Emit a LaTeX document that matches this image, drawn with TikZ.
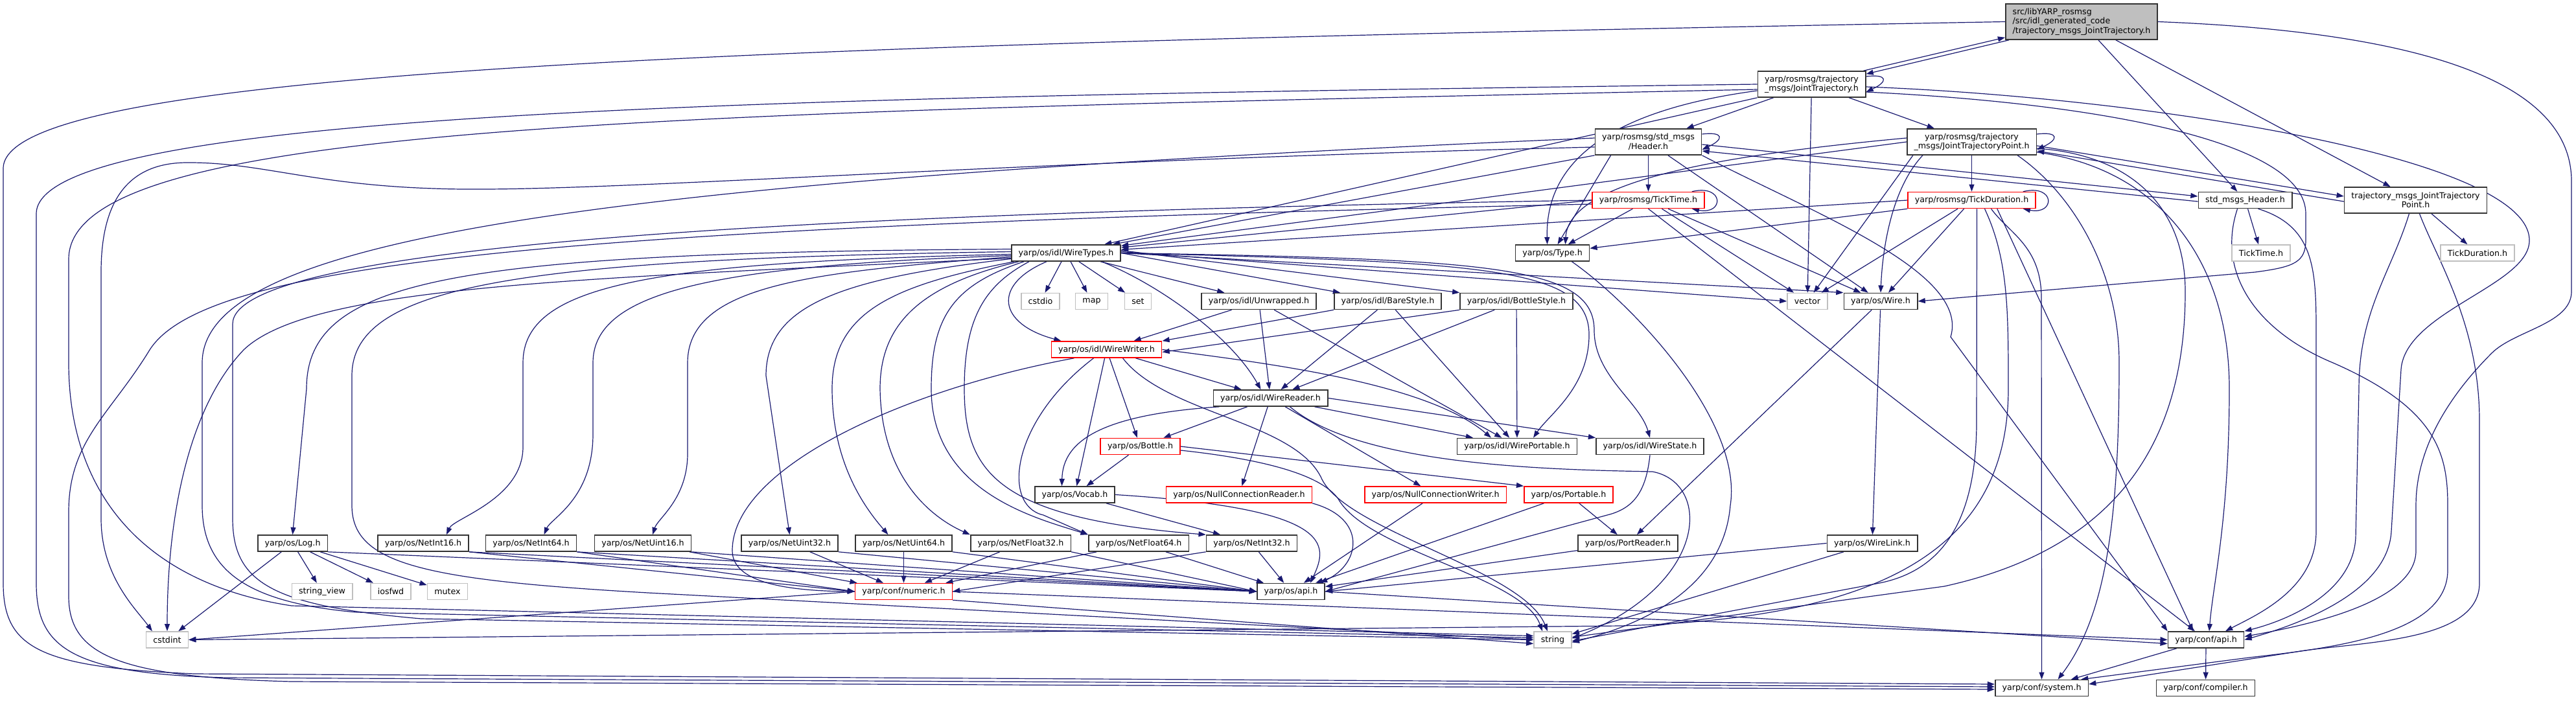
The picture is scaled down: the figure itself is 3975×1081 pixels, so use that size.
\documentclass[tikz,border=0pt]{standalone}
\usepackage{fontspec}
\setmainfont{DejaVu Sans}
\usepackage{xcolor}
\usepackage{tikz}
\usetikzlibrary{arrows.meta,backgrounds}
\definecolor{edgeblue}{RGB}{25,25,112}
\definecolor{boxgray}{RGB}{191,191,191}

\begin{document}
\begin{tikzpicture}[
    x=0.025cm, y=-0.025cm,
    >={Triangle[length=0.28cm,width=0.2cm]},
    box/.style={draw=black!80, line width=0.04cm, fill=white, minimum height=0.625cm, inner xsep=0.27cm, inner ysep=0pt, align=center, font=\fontsize{9}{10.3}\selectfont},
    box2/.style={box, minimum height=1cm},
    redbox/.style={box, draw=red},
    sysbox/.style={box, draw=boxgray},
    rootbox/.style={box, fill=boxgray, minimum height=1.375cm, align=left},
    arrow/.style={->, draw=edgeblue, line width=0.03cm},
]
\useasboundingbox (0,0) rectangle (3975,1081);

% rosmsg headers
\node[rootbox] (root) at (3212,33.5) {src/libYARP\_rosmsg\\/src/idl\_generated\_code\\/trajectory\_msgs\_JointTrajectory.h};
\node[box2] (jt) at (2795.5,130) {yarp/rosmsg/trajectory\\\_msgs/JointTrajectory.h};
\node[box2] (hdr) at (2543.5,219) {yarp/rosmsg/std\_msgs\\/Header.h};
\node[box2] (jtp) at (3042.5,219) {yarp/rosmsg/trajectory\\\_msgs/JointTrajectoryPoint.h};
\node[redbox] (ticktime) at (2543.5,309) {yarp/rosmsg/TickTime.h};
\node[redbox] (tickdur) at (3042.5,309) {yarp/rosmsg/TickDuration.h};
\node[box] (stdhdr) at (3464.5,309) {std\_msgs\_Header.h};
\node[box2] (trajpt) at (3727.5,309) {trajectory\_msgs\_JointTrajectory\\Point.h};
\node[sysbox] (ticktimeh) at (3489,390.5) {TickTime.h};
\node[sysbox] (tickdurh) at (3823,390.5) {TickDuration.h};

% idl and os headers
\node[box] (wiretypes) at (1645,390.5) {yarp/os/idl/WireTypes.h};
\node[box] (type) at (2395.5,390.5) {yarp/os/Type.h};
\node[sysbox] (cstdio) at (1605.5,465) {cstdio};
\node[sysbox] (map) at (1684.5,465) {map};
\node[sysbox] (set) at (1756,465) {set};
\node[box] (unwrapped) at (1942.5,465) {yarp/os/idl/Unwrapped.h};
\node[box] (barestyle) at (2141.5,465) {yarp/os/idl/BareStyle.h};
\node[box] (bottlestyle) at (2340,465) {yarp/os/idl/BottleStyle.h};
\node[sysbox] (vector) at (2789,465) {vector};
\node[box] (wire) at (2902,465) {yarp/os/Wire.h};
\node[redbox] (wirewriter) at (1707.5,539.5) {yarp/os/idl/WireWriter.h};
\node[box] (wirereader) at (1960.5,614.5) {yarp/os/idl/WireReader.h};
\node[redbox] (bottle) at (1759.5,689) {yarp/os/Bottle.h};
\node[box] (wireportable) at (2341,689) {yarp/os/idl/WirePortable.h};
\node[box] (wirestate) at (2546,689) {yarp/os/idl/WireState.h};
\node[box] (vocab) at (1658.5,763.5) {yarp/os/Vocab.h};
\node[redbox] (nullreader) at (1912,763.5) {yarp/os/NullConnectionReader.h};
\node[redbox] (nullwriter) at (2215,763.5) {yarp/os/NullConnectionWriter.h};
\node[redbox] (portable) at (2420.5,763.5) {yarp/os/Portable.h};
\node[box] (log) at (451.5,838.5) {yarp/os/Log.h};
\node[box] (netint16) at (653,838.5) {yarp/os/NetInt16.h};
\node[box] (netint64) at (819.5,838.5) {yarp/os/NetInt64.h};
\node[box] (netuint16) at (992,838.5) {yarp/os/NetUint16.h};
\node[box] (netuint32) at (1218.5,838.5) {yarp/os/NetUint32.h};
\node[box] (netuint64) at (1394.5,838.5) {yarp/os/NetUint64.h};
\node[box] (netfloat32) at (1575,838.5) {yarp/os/NetFloat32.h};
\node[box] (netfloat64) at (1757,838.5) {yarp/os/NetFloat64.h};
\node[box] (netint32) at (1931.5,838.5) {yarp/os/NetInt32.h};
\node[box] (portreader) at (2512,838.5) {yarp/os/PortReader.h};
\node[box] (wirelink) at (2889,838.5) {yarp/os/WireLink.h};
\node[sysbox] (stringview) at (497,913) {string\_view};
\node[sysbox] (iosfwd) at (603,913) {iosfwd};
\node[sysbox] (mutex) at (690.5,913) {mutex};
\node[redbox] (numeric) at (1394.5,913) {yarp/conf/numeric.h};
\node[box] (osapi) at (1992,913) {yarp/os/api.h};
\node[sysbox] (cstdint) at (258,987.5) {cstdint};
\node[sysbox] (string) at (2396,987.5) {string};
\node[box] (confapi) at (3404,987.5) {yarp/conf/api.h};
\node[box] (system) at (3150.5,1062) {yarp/conf/system.h};
\node[box] (compiler) at (3403.5,1062) {yarp/conf/compiler.h};

\begin{scope}[on background layer]
% root file
\draw[arrow] ([shift={(6,0)}]root.south west) -- ([shift={(0,5)}]jt.north east);
\draw[arrow] ([shift={(-4,0)}]jt.north east) -- ([shift={(0,-4)}]root.south west);
\draw[arrow] (root) -- (stdhdr);
\draw[arrow] (root) -- (trajpt);
\draw[arrow] (root.west) .. controls (1100,70) and (5,110) .. (5,260) -- (5,900) .. controls (5,1000) and (60,1030) .. (300,1040) -- ([shift={(0,-6)}]system.west);
\draw[arrow] (root.east) .. controls (3750,50) and (3968,130) .. (3968,280) -- (3968,450) .. controls (3968,500) and (3880,510) .. (3845,545) .. controls (3770,620) and (3728,700) .. (3728,780) -- (3728,850) .. controls (3728,930) and (3560,965) .. ([shift={(0,-5)}]confapi.east);

% JointTrajectory.h
\draw[arrow] ([shift={(0,-12)}]jt.east) .. controls +(34,-4) and +(34,-16) .. ([shift={(0,12)}]jt.east);
\draw[arrow] (jt) -- (hdr);
\draw[arrow] (jt) -- (jtp);
\draw[arrow] (jt) -- (vector);
\draw[arrow] (jt.south west) -- (wiretypes);
\draw[arrow] ([shift={(0,10)}]jt.west) .. controls (2450,175) and (2385,270) .. ([shift={(-8,0)}]type.north);
\draw[arrow] ([shift={(0,4)}]jt.east) .. controls (3300,150) and (3900,240) .. (3903,370) .. controls (3905,440) and (3712,480) .. (3705,570) -- (3690,820) .. controls (3685,910) and (3560,960) .. (confapi.east);
% loop round the right, under TickTime.h
\draw[arrow] ([shift={(0,12)}]jt.east) .. controls (3250,160) and (3558,220) .. (3558,330) -- (3558,370) .. controls (3558,405) and (3540,412) .. (3480,420) -- (wire.east);
\draw[arrow] (jt.west) .. controls (1200,150) and (56,170) .. (56,330) -- (56,900) .. controls (56,1000) and (110,1040) .. (350,1046) -- ([shift={(0,-2)}]system.west);
\draw[arrow] ([shift={(0,8)}]jt.west) .. controls (1000,175) and (106,190) .. (106,400) -- (106,560) .. controls (106,760) and (220,900) .. (450,935) -- ([shift={(0,-6)}]string.west);

% std_msgs/Header.h
\draw[arrow] ([shift={(0,-12)}]hdr.east) .. controls +(34,-4) and +(34,-16) .. ([shift={(0,12)}]hdr.east);
\draw[arrow] (hdr) -- (ticktime);
\draw[arrow] ([shift={(0,4)}]hdr.east) -- ([shift={(0,-6)}]stdhdr.west);
\draw[arrow] ([shift={(0,2)}]stdhdr.west) -- ([shift={(0,14)}]hdr.east);
\draw[arrow] (hdr.south west) -- (wiretypes);
\draw[arrow] ([shift={(25,0)}]hdr.south west) -- ([shift={(8,0)}]type.north);
\draw[arrow] (hdr) -- (wire);
\draw[arrow] (hdr.south east) .. controls (2800,330) and (3040,420) .. (3010,520) -- (confapi.north west);
\draw[arrow] ([shift={(0,-6)}]hdr.west) .. controls (900,280) and (312,370) .. (312,560) -- (312,780) .. controls (312,880) and (380,930) .. (550,945) -- ([shift={(0,-3)}]string.west);
\draw[arrow] ([shift={(0,8)}]hdr.west) .. controls (1500,250) and (900,300) .. (670,291) .. controls (480,285) and (400,250) .. (287,251) .. controls (190,252) and (156,320) .. (156,420) -- (156,800) .. controls (156,890) and (210,940) .. ([shift={(10,0)}]cstdint.north west);

% TickTime.h
\draw[arrow] ([shift={(-20,0)}]ticktime.north east) .. controls +(50,-12) and +(50,10) .. ([shift={(-20,0)}]ticktime.south east);
\draw[arrow] (ticktime) -- (type);
\draw[arrow] (ticktime) -- (vector);
\draw[arrow] (ticktime) -- (wire);
\draw[arrow] (ticktime.west) -- (wiretypes);
\draw[arrow] (ticktime.south) -- (confapi);
\draw[arrow] (ticktime.west) .. controls (1200,330) and (359,380) .. (359,500) -- (359,800) .. controls (359,900) and (420,935) .. (650,955) -- (string.west);
\draw[arrow] ([shift={(0,6)}]ticktime.west) .. controls (900,350) and (320,400) .. (231,540) .. controls (170,640) and (106,680) .. (106,790) -- (106,920) .. controls (106,1010) and (180,1045) .. (450,1052) -- ([shift={(0,2)}]system.west);

% JointTrajectoryPoint.h
\draw[arrow] ([shift={(0,-12)}]jtp.east) .. controls +(34,-4) and +(34,-16) .. ([shift={(0,12)}]jtp.east);
\draw[arrow] (jtp) -- (tickdur);
\draw[arrow] ([shift={(0,6)}]jtp.east) -- ([shift={(0,-6)}]trajpt.west);
\draw[arrow] ([shift={(0,2)}]trajpt.west) -- ([shift={(0,14)}]jtp.east);
\draw[arrow] ([shift={(0,-6)}]jtp.west) .. controls (2650,240) and (2420,280) .. ([shift={(20,0)}]type.north);
\draw[arrow] (jtp.west) -- (wiretypes);
\draw[arrow] ([shift={(10,0)}]jtp.south west) -- (vector);
\draw[arrow] ([shift={(25,0)}]jtp.south west) .. controls (2920,290) and (2905,380) .. (wire.north);
\draw[arrow] ([shift={(0,10)}]jtp.east) .. controls (3300,240) and (3372,330) .. (3372,450) .. controls (3372,700) and (3250,850) .. (3000,905) -- ([shift={(0,-4)}]string.east);
\draw[arrow] ([shift={(0,16)}]jtp.east) .. controls (3330,260) and (3440,400) .. (3440,600) .. controls (3440,800) and (3415,900) .. ([shift={(5,0)}]confapi.north);
\draw[arrow] ([shift={(-30,0)}]jtp.south east) .. controls (3200,300) and (3270,420) .. (3270,560) .. controls (3270,800) and (3250,950) .. ([shift={(25,0)}]system.north);

% TickDuration.h
\draw[arrow] ([shift={(-20,0)}]tickdur.north east) .. controls +(50,-12) and +(50,10) .. ([shift={(-20,0)}]tickdur.south east);
\draw[arrow] (tickdur.south west) -- (type);
\draw[arrow] (tickdur.west) -- (wiretypes);
\draw[arrow] (tickdur) -- (vector);
\draw[arrow] (tickdur) -- (wire);
\draw[arrow] ([shift={(8,0)}]tickdur.south) -- (3050,650) .. controls (3050,800) and (3000,880) .. (2900,900) -- ([shift={(0,2)}]string.east);
\draw[arrow] ([shift={(20,0)}]tickdur.south) .. controls (3099,400) and (3099,480) .. (3099,600) .. controls (3099,850) and (2900,955) .. (2500,966) -- (cstdint.east);
\draw[arrow] ([shift={(30,0)}]tickdur.south) .. controls (3100,360) and (3150,380) .. (3150,460) -- (system.north);
\draw[arrow] ([shift={(-60,0)}]tickdur.south east) -- ([shift={(-20,0)}]confapi.north);

% deprecated wrappers
\draw[arrow] (stdhdr) -- (ticktimeh);
\draw[arrow] ([shift={(-12,0)}]stdhdr.south) .. controls (3420,420) and (3480,510) .. (3600,560) .. controls (3760,630) and (3777,700) .. (3777,780) -- (3777,880) .. controls (3777,980) and (3600,1000) .. (3470,1015) -- ([shift={(-12,0)}]system.north east);
\draw[arrow] ([shift={(20,0)}]stdhdr.south) .. controls (3574,350) and (3574,420) .. (3574,520) -- (3574,820) .. controls (3574,910) and (3480,950) .. ([shift={(30,0)}]confapi.north);
\draw[arrow] (trajpt) -- (tickdurh);
\draw[arrow] ([shift={(-10,0)}]trajpt.south) .. controls (3690,420) and (3640,480) .. (3640,600) -- (3635,830) .. controls (3630,920) and (3520,960) .. (confapi.north east);
\draw[arrow] ([shift={(6,0)}]trajpt.south) .. controls (3760,400) and (3826,500) .. (3826,650) -- (3826,900) .. controls (3826,990) and (3650,990) .. (3550,1005) -- ([shift={(0,-6)}]system.east);

% WireTypes.h
\draw[arrow] (wiretypes) -- (cstdio);
\draw[arrow] (wiretypes) -- (map);
\draw[arrow] (wiretypes) -- (set);
\draw[arrow] (wiretypes) -- (unwrapped);
\draw[arrow] (wiretypes.east) -- (barestyle);
\draw[arrow] ([shift={(0,-4)}]wiretypes.east) -- (bottlestyle.north west);
\draw[arrow] ([shift={(0,-2)}]wiretypes.east) -- (vector.west);
\draw[arrow] (wiretypes.east) -- (wire.north west);
\draw[arrow] (wiretypes.east) .. controls (2300,400) and (2460,410) .. (2460,510) .. controls (2460,580) and (2530,620) .. (wirestate.north);
\draw[arrow] (wiretypes.east) .. controls (2300,405) and (2455,412) .. (2452,520) .. controls (2450,600) and (2390,640) .. ([shift={(25,0)}]wireportable.north);
\draw[arrow] ([shift={(-30,0)}]wiretypes.south east) .. controls (1790,440) and (1900,520) .. ([shift={(-15,0)}]wirereader.north);
\draw[arrow] ([shift={(-30,0)}]wiretypes.south) .. controls (1530,440) and (1540,500) .. ([shift={(-70,0)}]wirewriter.north);
\draw[arrow] ([shift={(0,-6)}]wiretypes.west) .. controls (700,390) and (473,430) .. (473,600) -- (log.north);
\draw[arrow] ([shift={(0,-2)}]wiretypes.west) .. controls (800,400) and (543,440) .. (543,580) -- (543,780) .. controls (543,870) and (650,895) .. (1000,915) -- (string.west);
\draw[arrow] ([shift={(0,8)}]wiretypes.west) .. controls (900,430) and (480,440) .. (376,540) .. controls (290,630) and (258,800) .. (cstdint.north);
\draw[arrow] ([shift={(0,2)}]wiretypes.west) .. controls (1000,405) and (807,440) .. (807,560) -- (807,690) .. controls (807,770) and (700,800) .. ([shift={(36,0)}]netint16.north);
\draw[arrow] ([shift={(0,4)}]wiretypes.west) .. controls (1100,410) and (915,450) .. (915,560) -- (915,670) .. controls (915,770) and (850,800) .. ([shift={(20,0)}]netint64.north);
\draw[arrow] ([shift={(0,6)}]wiretypes.west) .. controls (1250,420) and (1061,440) .. (1061,560) -- (1061,700) .. controls (1061,770) and (1015,800) .. ([shift={(15,0)}]netuint16.north);
\draw[arrow] ([shift={(0,9)}]wiretypes.west) .. controls (1300,430) and (1182,470) .. (1182,580) -- (netuint32.north);
\draw[arrow] ([shift={(5,0)}]wiretypes.south west) .. controls (1380,440) and (1284,480) .. (1284,600) .. controls (1284,720) and (1340,790) .. ([shift={(-24,0)}]netuint64.north);
\draw[arrow] ([shift={(12,0)}]wiretypes.south west) .. controls (1420,440) and (1358,500) .. (1358,600) .. controls (1360,740) and (1440,800) .. (netfloat32.north west);
\draw[arrow] ([shift={(20,0)}]wiretypes.south west) .. controls (1470,440) and (1437,490) .. (1437,600) .. controls (1437,760) and (1600,800) .. (netfloat64.north west);
\draw[arrow] ([shift={(28,0)}]wiretypes.south west) .. controls (1520,440) and (1488,490) .. (1488,600) .. controls (1488,730) and (1540,800) .. (netint32.north west);

% idl styles
\draw[arrow] (unwrapped) -- (wirewriter);
\draw[arrow] (unwrapped) -- (wirereader);
\draw[arrow] (unwrapped) -- (wireportable);
\draw[arrow] (barestyle.south west) -- (wirewriter.north east);
\draw[arrow] (barestyle) -- (wirereader);
\draw[arrow] (barestyle) -- (wireportable);
\draw[arrow] (bottlestyle.south west) -- ([shift={(0,4)}]wirewriter.east);
\draw[arrow] (bottlestyle) -- (wirereader);
\draw[arrow] (bottlestyle) -- (wireportable);

% WireWriter.h and WireReader.h
\draw[arrow] (wirewriter) -- (wirereader);
\draw[arrow] (wirewriter) -- (bottle);
\draw[arrow] (wirewriter) -- (vocab);
\draw[arrow] (wirewriter.east) .. controls (1950,560) and (2200,590) .. ([shift={(-40,0)}]wireportable.north);
\draw[arrow] ([shift={(-50,0)}]wirewriter.south) .. controls (1400,600) and (1130,720) .. (1130,850) .. controls (1130,895) and (1200,912) .. (numeric.west);
\draw[arrow] ([shift={(-20,0)}]wirewriter.south) .. controls (1560,650) and (1545,780) .. (1610,795) -- (netfloat64.north west);
\draw[arrow] ([shift={(25,0)}]wirewriter.south) .. controls (1800,640) and (2000,650) .. (2040,740) .. controls (2080,820) and (2350,880) .. ([shift={(-8,0)}]string.north);
\draw[arrow] (wirereader) -- (wireportable);
\draw[arrow] (wirereader.east) -- (wirestate.north west);
\draw[arrow] (wirereader) -- (bottle);
\draw[arrow] (wirereader) -- (nullreader);
\draw[arrow] (wirereader) -- (nullwriter);
\draw[arrow] ([shift={(10,0)}]wirereader.south west) .. controls (1700,640) and (1640,680) .. ([shift={(-20,0)}]vocab.north);
\draw[arrow] ([shift={(30,0)}]wirereader.south) .. controls (2100,720) and (2400,725) .. (2550,728) .. controls (2640,745) and (2640,900) .. ([shift={(0,-2)}]string.east);

% Bottle.h, Vocab.h and the port classes
\draw[arrow] (bottle) -- (vocab);
\draw[arrow] (bottle.east) -- (portable.north west);
\draw[arrow] ([shift={(0,6)}]bottle.east) .. controls (1960,710) and (2040,735) .. (2065,770) .. controls (2110,850) and (2350,890) .. ([shift={(-16,0)}]string.north);
\draw[arrow] (vocab) -- (netint32);
\draw[arrow] (vocab.east) .. controls (2060,785) and (2050,840) .. ([shift={(30,0)}]osapi.north);
\draw[arrow] (nullreader.south east) .. controls (2110,800) and (2100,870) .. ([shift={(-8,0)}]osapi.north east);
\draw[arrow] (nullwriter) -- (osapi);
\draw[arrow] (portable) -- (osapi);
\draw[arrow] (portable) -- (portreader);
\draw[arrow] (portreader) -- (osapi);
\draw[arrow] (wirestate.south) .. controls (2540,760) and (2520,785) .. (2480,795) -- (osapi.east);
\draw[arrow] (wirelink.west) -- (osapi.east);
\draw[arrow] (wirelink) -- (string);
\draw[arrow] (wire) -- (portreader);
\draw[arrow] (wire) -- (wirelink);
\draw[arrow] ([shift={(30,0)}]type.south) .. controls (2520,470) and (2690,650) .. (2670,780) .. controls (2660,900) and (2550,960) .. ([shift={(0,4)}]string.east);

% Log.h and the Net types
\draw[arrow] (log) -- (stringview);
\draw[arrow] (log) -- (iosfwd);
\draw[arrow] (log) -- (mutex);
\draw[arrow] (log) -- (cstdint);
\draw[arrow] (log.south east) -- (osapi.west);
\draw[arrow] (netint16.south east) -- (numeric.west);
\draw[arrow] (netint16.south east) -- (osapi.west);
\draw[arrow] (netint64.south east) -- (numeric.west);
\draw[arrow] (netint64.south east) -- (osapi.west);
\draw[arrow] (netuint16) -- (numeric);
\draw[arrow] (netuint16.south east) -- (osapi.west);
\draw[arrow] (netuint32) -- (numeric);
\draw[arrow] (netuint32.south east) -- (osapi.west);
\draw[arrow] (netuint64) -- (numeric);
\draw[arrow] (netuint64.south east) -- (osapi.west);
\draw[arrow] (netfloat32) -- (numeric);
\draw[arrow] (netfloat32.south east) -- (osapi.west);
\draw[arrow] (netfloat64) -- (numeric);
\draw[arrow] (netfloat64) -- (osapi);
\draw[arrow] (netint32.south west) -- (numeric.east);
\draw[arrow] (netint32) -- (osapi);

% conf headers
\draw[arrow] (numeric.west) -- (cstdint.east);
\draw[arrow] (numeric.east) -- (confapi.west);
\draw[arrow] (numeric.south east) -- ([shift={(0,6)}]string.west);
\draw[arrow] (osapi.east) -- ([shift={(0,6)}]confapi.west);
\draw[arrow] (confapi) -- (system);
\draw[arrow] (confapi) -- (compiler);
\end{scope}
\end{tikzpicture}
\end{document}
